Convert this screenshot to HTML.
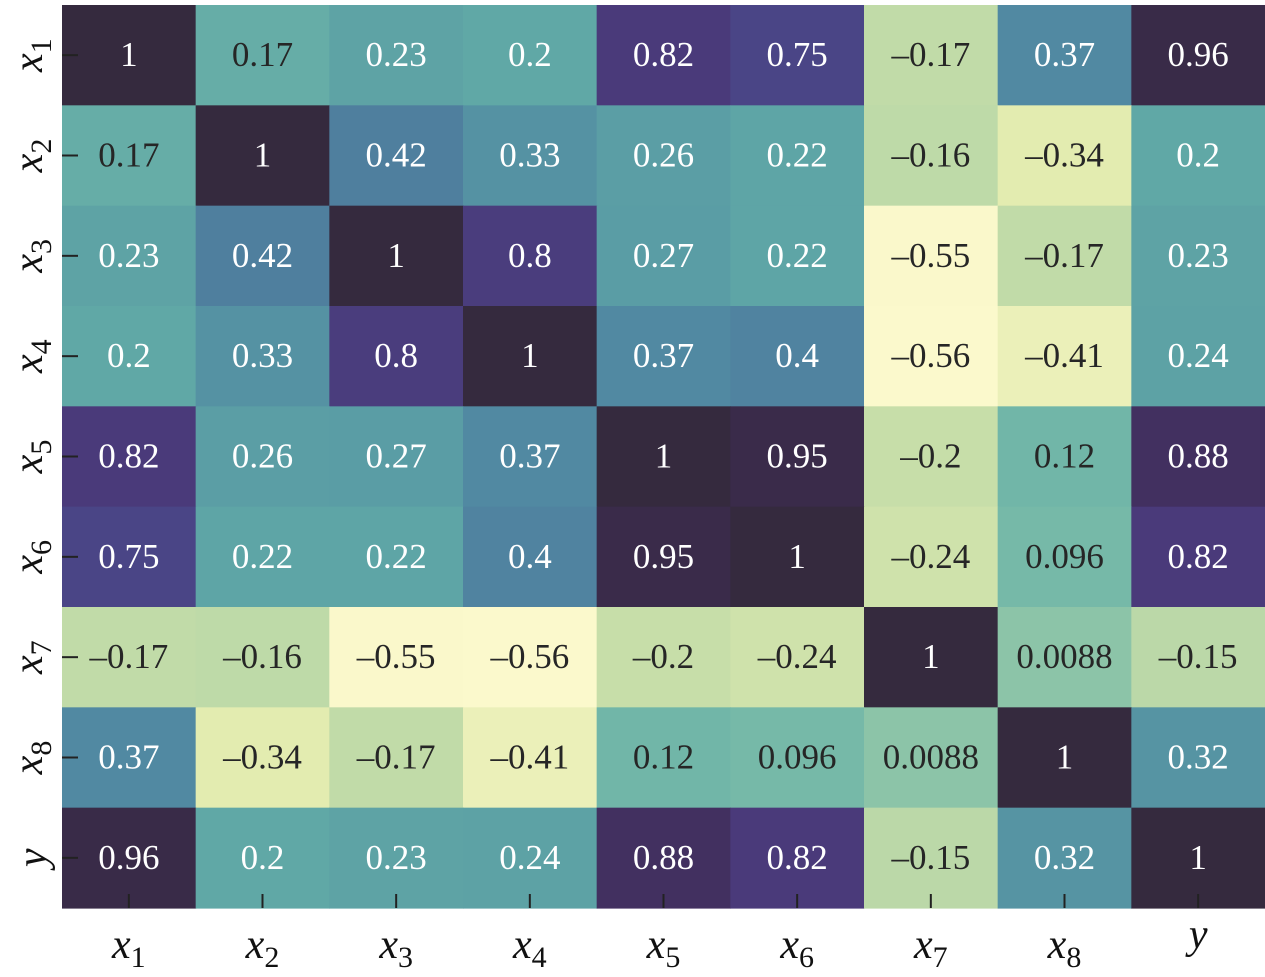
<!DOCTYPE html>
<html><head><meta charset="utf-8"><style>
html,body{margin:0;padding:0;background:#fff;width:1265px;height:977px;overflow:hidden}
svg{display:block}
svg text{font-family:"Liberation Serif","Times New Roman",serif !important}
</style></head><body>
<svg id="chart" width="1265" height="977"></svg>
<script>
const labels = ["1","2","3","4","5","6","7","8","y"];
const row1 = [1,0.17,0.23,0.2,0.82,0.75,-0.17,0.37,0.96];
const row2 = [0.17,1,0.42,0.33,0.26,0.22,-0.16,-0.34,0.2];
const row3 = [0.23,0.42,1,0.8,0.27,0.22,-0.55,-0.17,0.23];
const row4 = [0.2,0.33,0.8,1,0.37,0.4,-0.56,-0.41,0.24];
const row5 = [0.82,0.26,0.27,0.37,1,0.95,-0.2,0.12,0.88];
const row6 = [0.75,0.22,0.22,0.4,0.95,1,-0.24,0.096,0.82];
const row7 = [-0.17,-0.16,-0.55,-0.56,-0.2,-0.24,1,0.0088,-0.15];
const row8 = [0.37,-0.34,-0.17,-0.41,0.12,0.096,0.0088,1,0.32];
const row9 = [0.96,0.2,0.23,0.24,0.88,0.82,-0.15,0.32,1];
const matrix = [row1,row2,row3,row4,row5,row6,row7,row8,row9];

const stops = [[-0.56,[251,249,204]],[-0.34,[227,236,176]],[-0.17,[193,219,168]],[0,[142,197,168]],
 [0.1,[117,185,168]],[0.2,[96,168,166]],[0.3,[88,152,164]],[0.37,[81,137,162]],[0.42,[79,127,158]],
 [0.75,[74,69,134]],[0.82,[74,58,122]],[0.88,[66,48,96]],[0.95,[58,43,74]],[1,[53,42,62]]];
function color(v){
  for(let i=1;i<stops.length;i++){ if(v<=stops[i][0]){const a=stops[i-1],b=stops[i];const t=(v-a[0])/(b[0]-a[0]);
    const c=a[1].map((x,k)=>Math.round(x+(b[1][k]-x)*t));return `rgb(${c})`;}}
  return `rgb(${stops[stops.length-1][1]})`;
}
const L=62,R=1265,T=5,B=908,n=9;
const cw=(R-L)/n, ch=(B-T)/n;
const xs=i=>L+i*cw, ys=j=>T+j*ch;
const NS="http://www.w3.org/2000/svg";
const svg=document.getElementById('chart');
function mk(tag,attrs){const e=document.createElementNS(NS,tag);for(const k in attrs)e.setAttribute(k,attrs[k]);svg.appendChild(e);return e;}
function fmt(v){return (v<0?"\u2013":"")+String(Math.abs(v));}
matrix.forEach((row,j)=>row.forEach((v,i)=>{
  const r=mk('rect',{x:xs(i),y:ys(j),width:cw+0.6,height:ch+0.6,fill:color(v)});
  
  
  const t=mk('text',{x:xs(i)+cw/2,y:ys(j)+ch/2+11,'text-anchor':'middle','font-size':35,fill:v<0.19?'#262626':'#ffffff'});
  t.textContent=fmt(v);
  
  
}));
labels.forEach((lab,i)=>{
  const cx=xs(i)+cw/2, cy=ys(i)+ch/2;
  const tk=mk('line',{x1:cx,x2:cx,y1:B-14,y2:B,stroke:'#222','stroke-width':2});
  
  
  const tk2=mk('line',{x1:L,x2:L+16,y1:cy,y2:cy,stroke:'#222','stroke-width':2});
  
  
  const xl=mk('text',{x:cx,y:958,'text-anchor':'middle','font-size':42,'font-style':'italic',fill:'#111'});
  if(lab==='y'){xl.setAttribute('y',948);xl.textContent='y';}
  else xl.innerHTML='x<tspan dy="9" font-size="30" font-style="normal">'+lab+'</tspan>';
  
  
  const yl=mk('text',{x:0,y:0,'text-anchor':'middle','font-size':42,'font-style':'italic',fill:'#111',transform:`translate(${lab==='y'?46:42},${cy}) rotate(-90)`});
  if(lab==='y'){yl.textContent='y';}
  else yl.innerHTML='x<tspan dy="9" font-size="30" font-style="normal">'+lab+'</tspan>';
  
  
});
</script>
</body></html>
